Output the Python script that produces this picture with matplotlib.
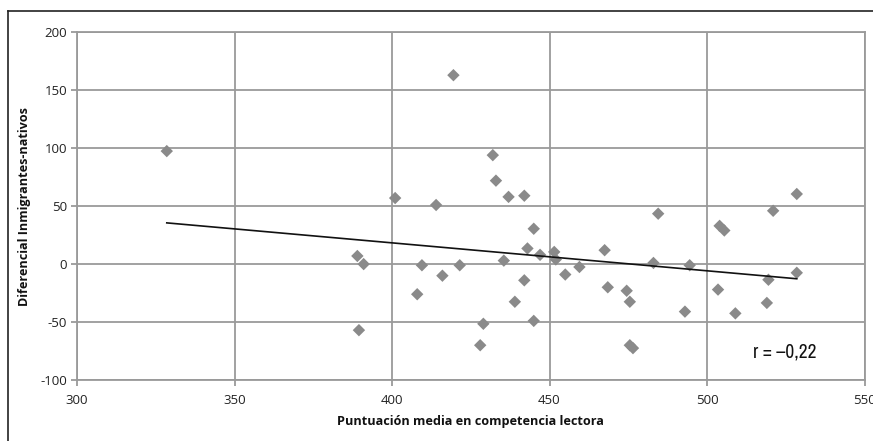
import matplotlib
matplotlib.use("Agg")
import matplotlib.pyplot as plt
import numpy as np
from matplotlib.lines import Line2D
from matplotlib import font_manager

plt.rcParams["axes.unicode_minus"] = False

# Data
lectura = [328.5, 401, 414, 389, 391, 409.5, 408, 389.5,
           419.5, 432, 433, 437, 442, 484.5, 521, 528.5, 504, 505.5,
           445, 443, 447, 451.5, 452, 435.5, 421.5, 416, 442, 439,
           429, 428, 445, 455, 459.5, 467.5, 468.5, 474.5, 475.5,
           475.5, 476.5, 483, 494.5, 493, 503.5, 509, 519.5, 519, 528.5]
diferencial = [97.5, 57, 51, 7, 0, -1, -26, -57,
               163, 94, 72, 58, 59, 43.5, 46, 60.5, 33, 29,
               30.5, 13.5, 8, 10.5, 4, 3, -1, -10, -14, -32.5,
               -51.5, -70, -49, -9, -2.5, 12, -20, -23, -32.5,
               -70, -72.5, 1, -1, -41, -22, -42.5, -13.5, -33.5, -7.5]
x_ticks = [300, 350, 400, 450, 500, 550]
y_ticks = [-100, -50, 0, 50, 100, 150, 200]
r_text = "r = \u20130,22"

x = np.array(lectura)
y = np.array(diferencial)

# pick a condensed font if available
cond_path = None
for f in font_manager.fontManager.ttflist:
    if "Narrow" in f.name or ("Condensed" in f.fname and "DejaVuSans" in f.fname and "Bold" not in f.fname and "Oblique" not in f.fname):
        cond_path = f.fname
        if "Narrow" in f.name and "Bold" not in f.fname and "Italic" not in f.fname:
            break
r_font = font_manager.FontProperties(fname=cond_path, size=14) if cond_path else \
    font_manager.FontProperties(family="DejaVu Sans", size=12.5)

fig = plt.figure(figsize=(8.73, 4.41), dpi=100)
ax = fig.add_axes([77/873, 1-380/441, (864.5-77)/873, (380-32.3)/441])

grid_c = "#9a9a9a"
ax.set_xlim(300, 550)
ax.set_ylim(-100, 200)
ax.set_xticks(x_ticks)
ax.set_yticks(y_ticks)
ax.grid(True, color=grid_c, linewidth=1.3, zorder=0)
for s in ax.spines.values():
    s.set_color(grid_c)
    s.set_linewidth(1.3)
ax.tick_params(axis="both", colors=grid_c, length=4, width=1.3,
               labelcolor="#222222", labelsize=9.5)
for lab in ax.get_xticklabels() + ax.get_yticklabels():
    lab.set_family("Open Sans")
ax.tick_params(axis="x", pad=6)
ax.tick_params(axis="y", pad=3)

ax.scatter(x, y, marker="D", s=40, color="#8a8a8a", edgecolors="none", zorder=3)

# least-squares trend line
m, b = np.polyfit(x, y, 1)
xs = np.array([x.min(), x.max()])
ax.plot(xs, m*xs + b, color="#111111", linewidth=1.2, zorder=4)

ax.text(0.858, 0.066, r_text, transform=ax.transAxes,
        fontproperties=r_font, color="#111111")

ax.set_xlabel("Puntuación media en competencia lectora", family="Open Sans",
              fontweight="bold", fontsize=9.1, color="#111111", labelpad=6)
ax.set_ylabel("Diferencial Inmigrantes-nativos", family="Open Sans",
              fontweight="bold", fontsize=9.1, color="#111111", labelpad=7)

# outer frame (top and left visible)
fig.add_artist(Line2D([7.5/873, 1], [1-10.7/441, 1-10.7/441], color="#222222",
                      linewidth=1.2, transform=fig.transFigure))
fig.add_artist(Line2D([7.5/873, 7.5/873], [0, 1-10.7/441], color="#222222",
                      linewidth=1.2, transform=fig.transFigure))

fig.savefig("out.png", dpi=100)
